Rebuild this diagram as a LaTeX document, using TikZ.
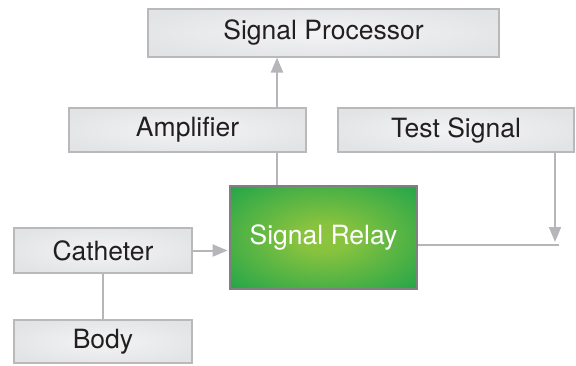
\documentclass[tikz,border=0pt]{standalone}
\usepackage{fontspec}
\setmainfont{TeX Gyre Heros}
\usetikzlibrary{arrows.meta,backgrounds}
\definecolor{boxborder}{RGB}{185,185,188}
\definecolor{boxfill}{RGB}{226,227,229}
\definecolor{conncol}{RGB}{182,182,186}
\definecolor{greenin}{RGB}{141,196,62}
\definecolor{greenout}{RGB}{26,163,74}
\definecolor{greenborder}{RGB}{128,128,130}
\definecolor{txt}{RGB}{35,31,32}
\pgfdeclareradialshading{greenglow}{\pgfpoint{0bp}{0bp}}{%
  color(0bp)=(greenin); color(7bp)=(greenin!95!greenout); color(38bp)=(greenout); color(50bp)=(greenout)}
\pgfdeclareradialshading{grayglow}{\pgfpoint{0bp}{0bp}}{%
  color(0bp)=(white!60!boxfill); color(30bp)=(boxfill); color(50bp)=(boxfill)}
\tikzset{
  graybox/.style={draw=boxborder, line width=2pt, shading=grayglow,
    text=txt, font=\fontsize{26.5}{31}\selectfont, inner sep=0pt},
  greenbox/.style={draw=greenborder, line width=1.8pt, shading=greenglow,
    text=white, font=\fontsize{26.5}{31}\selectfont, inner sep=0pt},
  conn/.style={draw=conncol, line width=2pt},
  arr/.style={conn, -{Triangle[length=15pt,width=12pt]}, color=conncol}
}
\begin{document}
\begin{tikzpicture}[x=1pt,y=-1pt]
\useasboundingbox (0,0) rectangle (576,365);
\node[graybox, minimum width=351pt, minimum height=48pt] (proc) at (323.5,32.5) {Signal Processor};
\node[graybox, minimum width=237pt, minimum height=44pt] (amp) at (187.5,130) {Amplifier};
\node[graybox, minimum width=236pt, minimum height=44pt] (test) at (456,130) {Test Signal};
\node[greenbox, minimum width=187pt, minimum height=103pt] (relay) at (323.5,237.5) {Signal Relay};
\node[graybox, minimum width=178pt, minimum height=45pt] (cath) at (103,250.5) {Catheter};
\node[graybox, minimum width=178pt, minimum height=43pt] (body) at (103,341.5) {Body};
\coordinate (vbase) at (277,186);
\coordinate (tip) at (555,242);
\coordinate (lend) at (559,245);
\begin{pgfonlayer}{background}
\draw[arr] (vbase) -- (vbase |- proc.south);
\end{pgfonlayer}
\draw[arr] (tip |- test.south) -- (tip);
\draw[conn] (relay.east |- lend) -- (lend);
\draw[arr, shorten >=1.5pt] (cath.east) -- (relay.west |- cath.east);
\draw[conn] (cath.south) -- (body.north);
\end{tikzpicture}
\end{document}
